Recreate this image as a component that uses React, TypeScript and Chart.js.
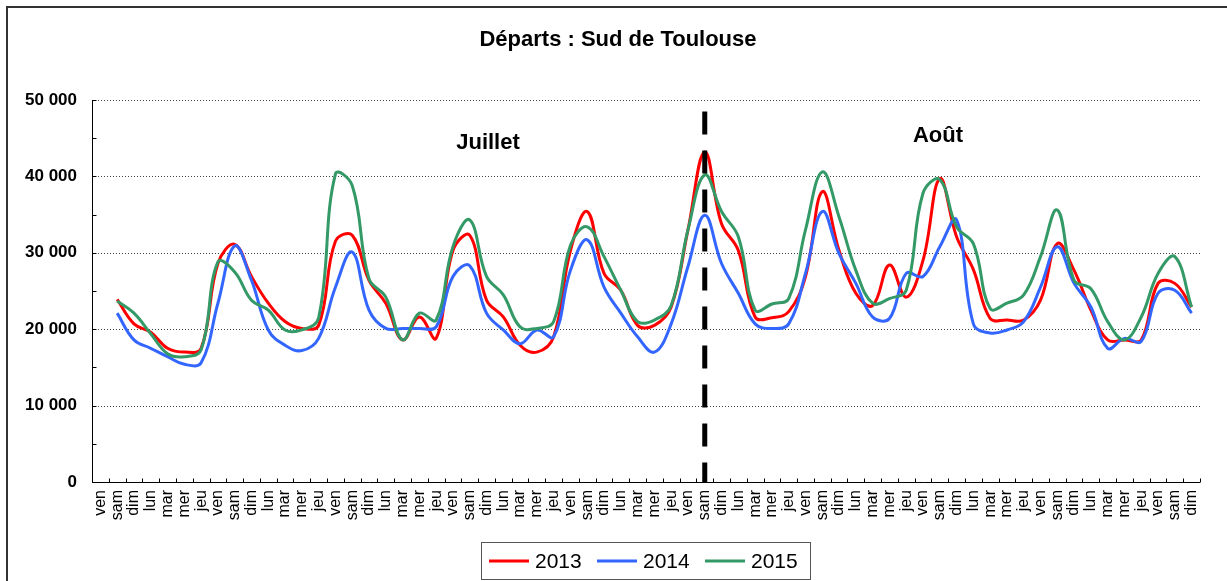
import React, { useEffect, useRef } from "react";
import { Chart, registerables } from "chart.js";

Chart.register(...registerables);

const weekDays = ["ven", "sam", "dim", "lun", "mar", "mer", "jeu"];
const dayLabels: string[] = Array.from({ length: 66 }, (_, i) => weekDays[i % 7]);

const title = "Départs : Sud de Toulouse";
const monthLabels = ["Juillet", "Août"];
const augustStartIndex = 36;

const series2013 = [
  null, 23900, 20700, 19600, 17500, 17000, 17500, 28600, 31100, 26900,
  23400, 21000, 20100, 20500, 31500, 32300, 26400, 23400, 18600, 21600,
  18800, 30300, 32300, 23800, 21600, 17900, 17000, 19000, 30300, 35400,
  27300, 25100, 20500, 20500, 22900, 33000, 43200, 33800, 30300, 21600,
  21500, 22300, 26900, 38000, 30300, 24700, 23100, 28400, 24200, 29000,
  39700, 32100, 27800, 21400, 21200, 21200, 23800, 31200, 27700, 22500,
  18600, 18600, 18600, 26000, 26000, 22900,
];

const series2014 = [
  null, 22100, 18600, 17500, 16400, 15400, 15600, 23400, 30900, 26400,
  19900, 17900, 17200, 18800, 25500, 30100, 22500, 20100, 20100, 20100,
  20300, 26900, 28300, 22100, 19900, 18100, 19900, 19000, 27700, 31700,
  25500, 22100, 19000, 17000, 20700, 28200, 34900, 28600, 24700, 20700,
  20100, 20700, 27300, 35400, 29900, 26000, 21600, 21400, 27300, 26900,
  30800, 34300, 20700, 19500, 19900, 21000, 25500, 30800, 26000, 22900,
  17500, 18800, 18400, 24700, 25100, 22100,
];

const series2015 = [
  null, 23700, 22100, 19400, 16800, 16400, 17300, 28800, 27500, 23800,
  22500, 19900, 19900, 21500, 40300, 38800, 26600, 24200, 18600, 22100,
  21200, 30800, 34300, 26900, 24500, 20300, 20100, 21000, 31000, 33400,
  29500, 25100, 21000, 21200, 23100, 33000, 40200, 35400, 32100, 22500,
  23300, 24000, 33000, 40600, 34700, 27700, 23400, 24000, 25100, 37800,
  39600, 33400, 31200, 22700, 23400, 24500, 29500, 35600, 26400, 25300,
  21000, 18600, 21600, 27300, 29500, 22900,
];

const yTicks = [0, 10000, 20000, 30000, 40000, 50000];
const seriesNames = ["2013", "2014", "2015"];
const seriesColors = ["#FF0000", "#3366FF", "#339966"];

const FONT = "'Liberation Sans', Arial, sans-serif";

function fmt(v: number): string {
  if (v === 0) return "0";
  const t = Math.floor(v / 1000);
  const r = String(v % 1000).padStart(3, "0");
  return `${t} ${r}`;
}

const decor = {
  id: "decor",
  beforeDraw(chart: any) {
    const { ctx, width, height } = chart;
    ctx.save();
    ctx.fillStyle = "#fff";
    ctx.fillRect(0, 0, width, height);
    ctx.strokeStyle = "#333";
    ctx.lineWidth = 2;
    ctx.strokeRect(7, 7, width + 20, height + 20);
    ctx.restore();
  },
  beforeDatasetsDraw(chart: any) {
    const { ctx, chartArea } = chart;
    const y = chart.scales.y;
    const x = chart.scales.x;
    ctx.save();
    ctx.strokeStyle = "#444";
    ctx.lineWidth = 1;
    ctx.setLineDash([1, 2]);
    for (const v of yTicks) {
      if (v === 0) continue;
      const py = Math.round(y.getPixelForValue(v)) + 0.5;
      ctx.beginPath();
      ctx.moveTo(chartArea.left, py);
      ctx.lineTo(chartArea.right, py);
      ctx.stroke();
    }
    ctx.setLineDash([]);
    ctx.strokeStyle = "#000";
    const left = Math.round(chartArea.left) + 0.5;
    const bottom = Math.round(y.getPixelForValue(0)) + 0.5;
    ctx.beginPath();
    ctx.moveTo(left, Math.round(y.getPixelForValue(50000)));
    ctx.lineTo(left, bottom);
    ctx.lineTo(chartArea.right, bottom);
    ctx.stroke();
    for (let v = 0; v <= 50000; v += 5000) {
      const py = Math.round(y.getPixelForValue(v)) + 0.5;
      ctx.beginPath();
      ctx.moveTo(left, py);
      ctx.lineTo(left + 4, py);
      ctx.stroke();
    }
    const n = dayLabels.length;
    for (let i = 0; i <= n; i++) {
      const px = Math.round(x.getPixelForValue(i - 0.5)) + 0.5;
      ctx.beginPath();
      ctx.moveTo(px, bottom);
      ctx.lineTo(px, bottom - 4);
      ctx.stroke();
    }
    ctx.restore();
  },
  afterDatasetsDraw(chart: any) {
    const { ctx } = chart;
    const x = chart.scales.x;
    const y = chart.scales.y;
    ctx.save();
    const px = x.getPixelForValue(augustStartIndex);
    ctx.strokeStyle = "#000";
    ctx.lineWidth = 5;
    ctx.setLineDash([23, 16]);
    ctx.beginPath();
    ctx.moveTo(px, y.getPixelForValue(48500));
    ctx.lineTo(px, y.getPixelForValue(0));
    ctx.stroke();
    ctx.setLineDash([]);
    ctx.restore();
  },
  afterDraw(chart: any) {
    const { ctx } = chart;
    ctx.save();
    ctx.fillStyle = "#000";
    ctx.textAlign = "center";
    ctx.textBaseline = "middle";
    ctx.font = `bold 22px ${FONT}`;
    ctx.fillText(title, 618, 40);
    ctx.fillText(monthLabels[0], 488, 143);
    ctx.fillText(monthLabels[1], 938, 136);

    const bx = 481, by = 542, bw = 329, bh = 37;
    ctx.strokeStyle = "#555";
    ctx.lineWidth = 1;
    ctx.strokeRect(bx + 0.5, by + 0.5, bw, bh);
    const cy = 561;
    const starts = [489, 597, 705];
    ctx.font = `21px ${FONT}`;
    ctx.textAlign = "left";
    seriesNames.forEach((name, i) => {
      ctx.strokeStyle = seriesColors[i];
      ctx.lineWidth = 3;
      ctx.beginPath();
      ctx.moveTo(starts[i], cy);
      ctx.lineTo(starts[i] + 40, cy);
      ctx.stroke();
      ctx.fillStyle = "#000";
      ctx.fillText(name, starts[i] + 46, cy + 1);
    });
    ctx.restore();
  },
};

export default function App() {
  const ref = useRef<HTMLCanvasElement>(null);
  useEffect(() => {
    if (!ref.current) return;
    const seriesData = [series2013, series2014, series2015];
    const chart = new Chart(ref.current, {
      type: "line",
      data: {
        labels: dayLabels,
        datasets: seriesNames.map((name, i) => ({
          label: name,
          data: seriesData[i] as any,
          borderColor: seriesColors[i],
          backgroundColor: seriesColors[i],
          borderWidth: 3,
          pointRadius: 0,
          tension: 0.4,
          fill: false,
          order: 3 - i,
        })),
      },
      options: {
        responsive: false,
        animation: false,
        devicePixelRatio: 1,
        layout: { padding: { left: 0, right: 27, top: 100, bottom: 0 } },
        plugins: {
          legend: { display: false },
          title: { display: false },
          tooltip: { enabled: false },
        },
        scales: {
          x: {
            type: "category",
            offset: true,
            grid: { display: false, drawTicks: false },
            border: { display: false },
            ticks: {
              autoSkip: false,
              minRotation: 90,
              maxRotation: 90,
              padding: 8,
              color: "#000",
              font: { family: FONT, size: 16 },
            },
            afterFit: (s: any) => {
              s.height = 99;
            },
          },
          y: {
            min: 0,
            max: 50000,
            grid: { display: false, drawTicks: false },
            border: { display: false },
            afterBuildTicks: (s: any) => {
              s.ticks = yTicks.map((v) => ({ value: v }));
            },
            ticks: {
              padding: 15,
              color: "#000",
              font: { family: FONT, size: 17, weight: "bold" },
              callback: (v: any) => fmt(Number(v)),
            },
            afterFit: (s: any) => {
              s.width = 92;
            },
          },
        },
      },
      plugins: [decor],
    });
    return () => chart.destroy();
  }, []);
  return (
    <div style={{ position: "fixed", left: 0, top: 0, width: 1227, height: 581 }}>
      <canvas ref={ref} width={1227} height={581} style={{ width: 1227, height: 581 }} />
    </div>
  );
}
